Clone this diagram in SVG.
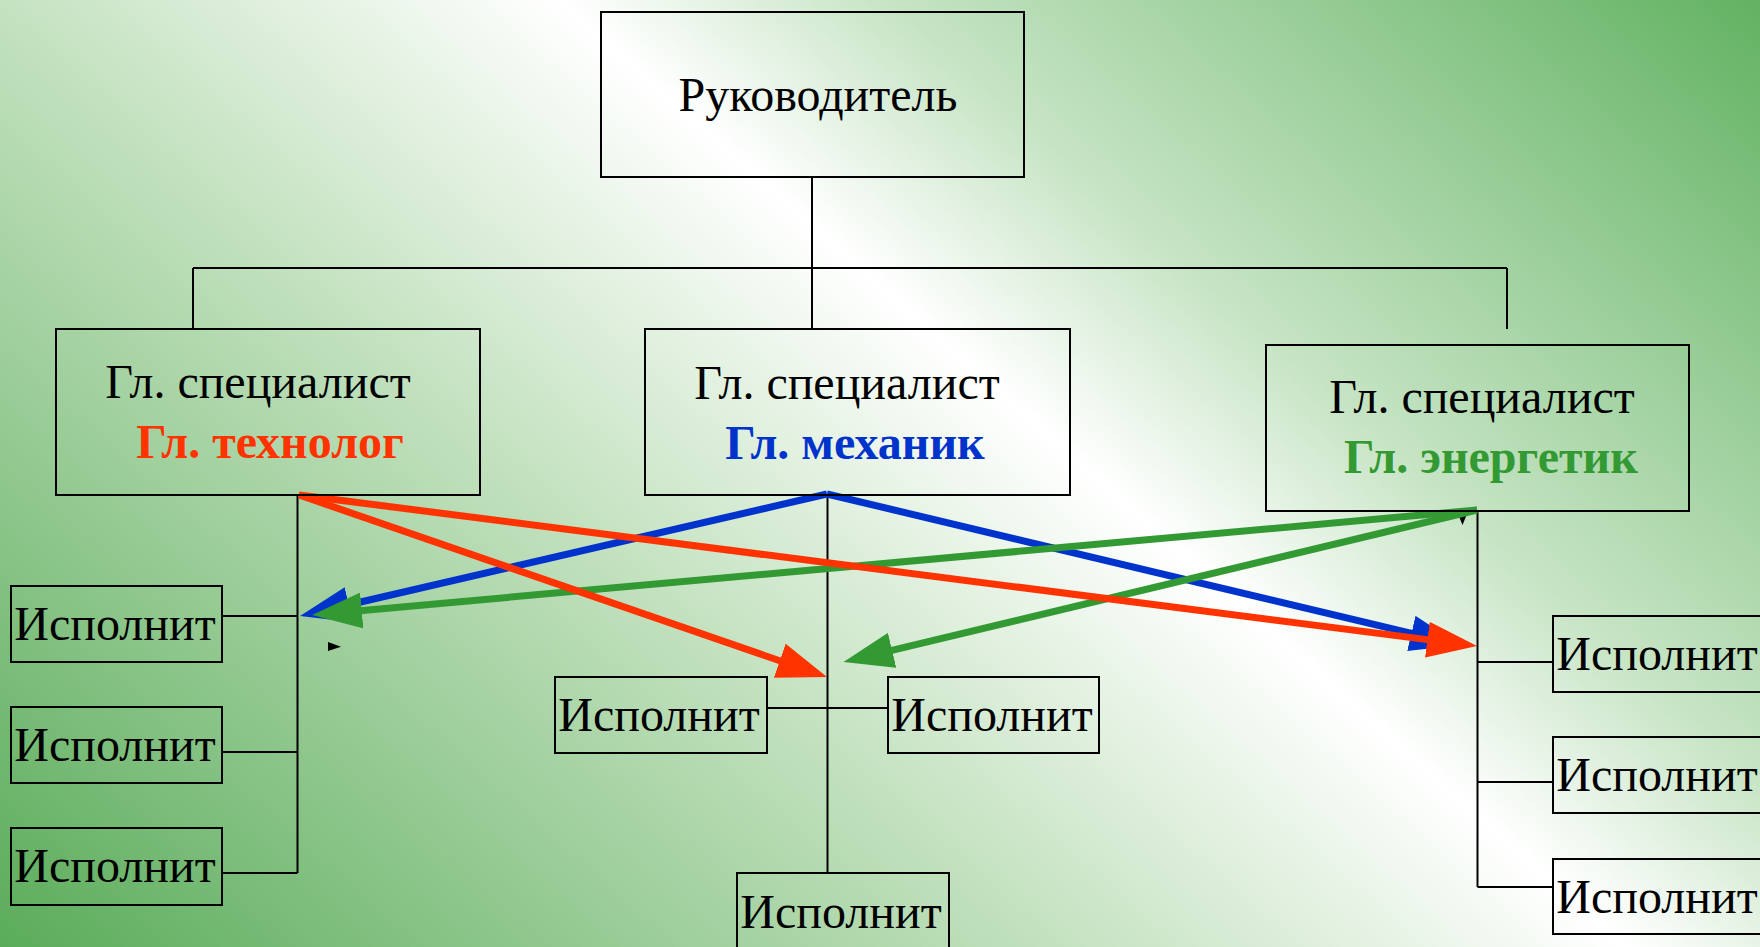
<svg xmlns="http://www.w3.org/2000/svg" width="1760" height="947" viewBox="0 0 1760 947">
<defs>
<linearGradient id="bg" gradientUnits="userSpaceOnUse" x1="-470" y1="530" x2="776" y2="-874">
<stop offset="0" stop-color="#5aac5a"/>
<stop offset="0.377" stop-color="#c4e2c0"/>
<stop offset="0.575" stop-color="#ffffff"/>
<stop offset="0.692" stop-color="#c6e4c4"/>
<stop offset="1" stop-color="#62b262"/>
</linearGradient>
<marker id="hr" markerUnits="userSpaceOnUse" markerWidth="50" markerHeight="36" viewBox="0 0 50 36" refX="10" refY="18" orient="auto"><path d="M0,0 L50,18 L0,36 z" fill="#ff3300"/></marker>
<marker id="hb" markerUnits="userSpaceOnUse" markerWidth="50" markerHeight="36" viewBox="0 0 50 36" refX="10" refY="18" orient="auto"><path d="M0,0 L50,18 L0,36 z" fill="#0033cc"/></marker>
<marker id="hg" markerUnits="userSpaceOnUse" markerWidth="50" markerHeight="36" viewBox="0 0 50 36" refX="10" refY="18" orient="auto"><path d="M0,0 L50,18 L0,36 z" fill="#339933"/></marker>
</defs>
<style>
.box{fill:none;stroke:#000;stroke-width:2}
.ln{fill:none;stroke:#000;stroke-width:2}
.t{font-family:"Liberation Serif","Times New Roman",serif;font-size:48px;fill:#000;text-anchor:middle}
.b{font-weight:bold}
.ar{fill:none;stroke-width:7}
</style>
<rect x="0" y="0" width="1760" height="947" fill="url(#bg)"/>
<g id="connectors">
<path class="ln" d="M812,177 V268 M193,268 H1507 M193,268 V329 M1507,268 V329 M812,268 V329"/>
<path class="ln" d="M297.5,495 V873 M222,616 H297.5 M222,752 H297.5 M222,873 H297.5"/>
<path class="ln" d="M827.5,495 V873 M767,708 H888"/>
<path class="ln" d="M1477.5,511 V887 M1477.5,662 H1553 M1477.5,782 H1553 M1477.5,887 H1553"/>
<polygon points="328,642 341,646.7 328,651" fill="#000"/>
<polygon points="1458,514 1467,514 1462.5,525" fill="#000"/>
<path class="ar" stroke="#0033cc" marker-end="url(#hb)" d="M827,494 L339,607"/>
<path class="ar" stroke="#0033cc" marker-end="url(#hb)" d="M827,494 L1421.1,635.7"/>
<path class="ar" stroke="#339933" marker-end="url(#hg)" d="M1477,510 L351.8,611.4"/>
<path class="ar" stroke="#339933" marker-end="url(#hg)" d="M1477,510 L882.4,652.7"/>
<path class="ar" stroke="#ff3300" marker-end="url(#hr)" d="M299,495 L789.2,664"/>
<path class="ar" stroke="#ff3300" marker-end="url(#hr)" d="M299,495 L1437.3,640.9"/>
</g>
<g id="head"><rect class="box" x="601" y="12" width="423" height="165"/><text class="t" x="818" y="111">Руководитель</text></g>
<g id="spec-tech"><rect class="box" x="56" y="329" width="424" height="166"/><text class="t" x="258" y="398">Гл. специалист</text><text class="t b" x="270" y="458" style="fill:#ff3300">Гл. технолог</text></g>
<g id="spec-mech"><rect class="box" x="645" y="329" width="425" height="166"/><text class="t" x="847" y="399">Гл. специалист</text><text class="t b" x="855" y="459" style="fill:#0033cc">Гл. механик</text></g>
<g id="spec-energ"><rect class="box" x="1266" y="345" width="423" height="166"/><text class="t" x="1482" y="413">Гл. специалист</text><text class="t b" x="1491" y="473" style="fill:#339933">Гл. энергетик</text></g>
<g id="ex-l1"><rect class="box" x="11" y="586" width="211" height="76"/><text class="t" x="115" y="640">Исполнит</text></g>
<g id="ex-l2"><rect class="box" x="11" y="707" width="211" height="76"/><text class="t" x="115" y="761">Исполнит</text></g>
<g id="ex-l3"><rect class="box" x="11" y="828" width="211" height="77"/><text class="t" x="115" y="882">Исполнит</text></g>
<g id="ex-m1"><rect class="box" x="555" y="677" width="212" height="76"/><text class="t" x="659" y="731">Исполнит</text></g>
<g id="ex-m2"><rect class="box" x="888" y="677" width="211" height="76"/><text class="t" x="992" y="731">Исполнит</text></g>
<g id="ex-m3"><rect class="box" x="737" y="873" width="212" height="76"/><text class="t" x="841" y="928">Исполнит</text></g>
<g id="ex-r1"><rect class="box" x="1553" y="616" width="220" height="76"/><text class="t" x="1657" y="670">Исполнит</text></g>
<g id="ex-r2"><rect class="box" x="1553" y="737" width="220" height="76"/><text class="t" x="1657" y="791">Исполнит</text></g>
<g id="ex-r3"><rect class="box" x="1553" y="859" width="220" height="75"/><text class="t" x="1657" y="913">Исполнит</text></g>
</svg>
